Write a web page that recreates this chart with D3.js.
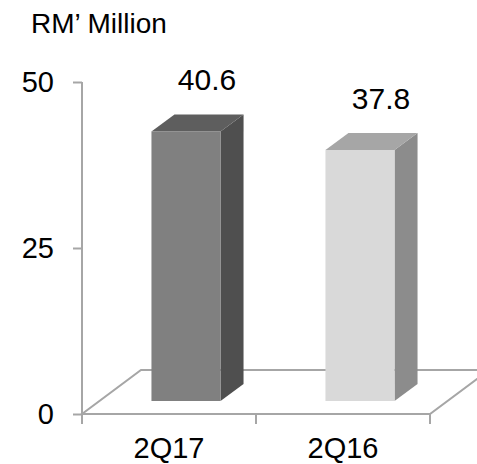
<!DOCTYPE html>
<html>
<head>
<meta charset="utf-8">
<script src="https://cdn.jsdelivr.net/npm/d3@7"></script>
<style>
  html, body { margin: 0; padding: 0; background: #fff; }
  svg { display: block; }
  text { font-family: "Liberation Sans", Arial, sans-serif; fill: #000; }
</style>
</head>
<body>
<div id="chart"></div>
<script>
// Quarterly figures, RM' Million
const categories = ["2Q17", "2Q16"];
const values = [40.6, 37.8];
const valueLabels = ["40.6", "37.8"];
const yTicks = [0, 25, 50];
const unitTitle = "RM\u2019 Million";

// face colours per bar: front, side, top
const frontColors = ["#808080", "#d9d9d9"];
const sideColors = ["#4f4f4f", "#8c8c8c"];
const topColors = ["#5e5e5e", "#a6a6a6"];

const W = 477, H = 464;
const gridColor = "#a6a6a6";

const svg = d3.select("#chart").append("svg")
  .attr("width", W).attr("height", H);

const y = d3.scaleLinear().domain([0, 50]).range([414, 82]);
const x = d3.scaleBand().domain(categories).range([82, 430]);

// oblique projection of the depth axis
const floorDepth = { dx: 59, dy: -44 };
const barOffset = { dx: 17, dy: -13 };   // front plane of the bars
const barDepth = { dx: 23, dy: -17 };
const barWidth = x.bandwidth() * 0.397;

const y0 = y(0);
const xL = x.range()[0], xR = x.range()[1];

// floor outline
const floor = svg.append("g")
  .attr("fill", "none").attr("stroke", gridColor).attr("stroke-width", 2);
floor.append("polygon")
  .attr("fill", "#fff")
  .attr("points", [
    [xL, y0], [xR, y0],
    [xR + floorDepth.dx, y0 + floorDepth.dy],
    [xL + floorDepth.dx, y0 + floorDepth.dy]
  ].map(p => p.join(",")).join(" "));

// value axis line, running down to the category tick length
svg.append("line")
  .attr("x1", xL).attr("x2", xL)
  .attr("y1", y(50)).attr("y2", y0 + 10)
  .attr("stroke", gridColor).attr("stroke-width", 2);

// value axis ticks and labels
const yAxis = d3.axisLeft(y).tickValues(yTicks).tickSize(9).tickPadding(19)
  .tickFormat(d3.format("d"));
const gy = svg.append("g").attr("transform", `translate(${xL},0)`).call(yAxis);
gy.select(".domain").remove();
gy.selectAll(".tick line").attr("stroke", gridColor).attr("stroke-width", 2);
gy.selectAll(".tick text")
  .style("font-family", "'Liberation Sans', Arial, sans-serif")
  .style("font-size", "29px").attr("fill", "#000");

// category separators below the floor
const sepX = [xL, ...categories.slice(1).map(c => x(c)), xR];
svg.append("g").selectAll("line").data(sepX).join("line")
  .attr("x1", d => d).attr("x2", d => d)
  .attr("y1", y0).attr("y2", y0 + 10)
  .attr("stroke", gridColor).attr("stroke-width", 2);

// category labels
svg.append("g").selectAll("text").data(categories).join("text")
  .attr("x", d => x(d) + x.bandwidth() / 2)
  .attr("y", 458)
  .attr("text-anchor", "middle")
  .style("font-size", "29px")
  .text(d => d);

// 3D bars
const pts = arr => arr.map(p => p.join(",")).join(" ");
const bars = svg.append("g").selectAll("g").data(values).join("g");
bars.each(function (v, i) {
  const g = d3.select(this);
  const c = categories[i];
  const fx0 = x(c) + (x.bandwidth() - barWidth) / 2 + barOffset.dx;
  const fx1 = fx0 + barWidth;
  const fyB = y0 + barOffset.dy;
  const fyT = y(v) + barOffset.dy;
  const dx = barDepth.dx, dy = barDepth.dy;
  g.append("polygon").attr("fill", sideColors[i])
    .attr("points", pts([[fx1, fyB], [fx1 + dx, fyB + dy], [fx1 + dx, fyT + dy], [fx1, fyT]]));
  g.append("polygon").attr("fill", topColors[i])
    .attr("points", pts([[fx0, fyT], [fx1, fyT], [fx1 + dx, fyT + dy], [fx0 + dx, fyT + dy]]));
  g.append("rect").attr("fill", frontColors[i])
    .attr("x", fx0).attr("y", fyT).attr("width", barWidth).attr("height", fyB - fyT);
  g.append("text")
    .attr("x", (fx0 + fx1) / 2 + 21)
    .attr("y", fyT - 41)
    .attr("text-anchor", "middle")
    .style("font-size", "30px")
    .text(valueLabels[i]);
});

// unit title
svg.append("text")
  .attr("x", 31).attr("y", 33)
  .style("font-size", "28px")
  .text(unitTitle);
</script>
</body>
</html>
